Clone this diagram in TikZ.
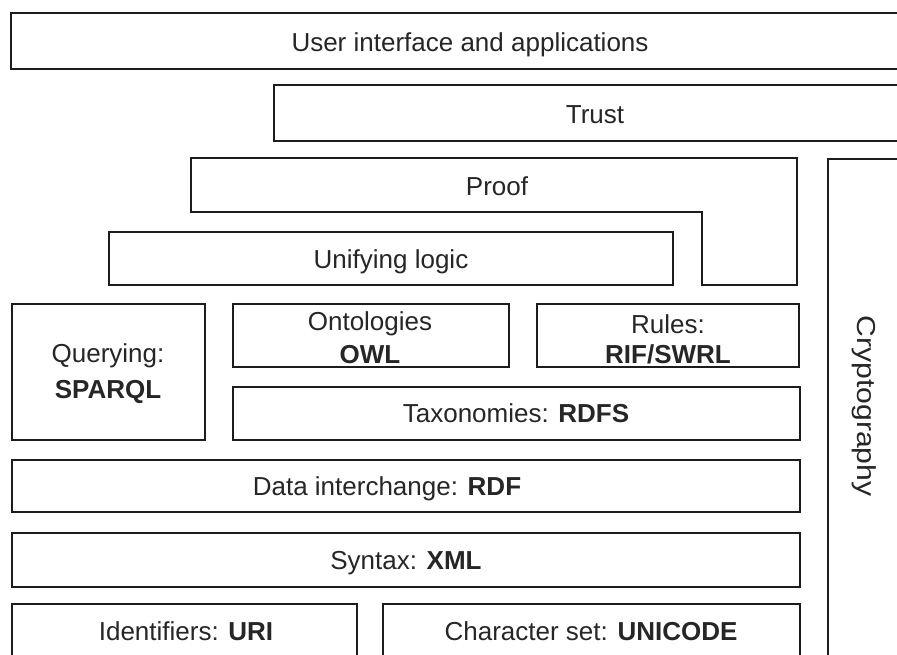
\documentclass[tikz,border=0pt]{standalone}
\usepackage{fontspec}
\setmainfont{Liberation Sans}
\definecolor{linec}{HTML}{1C1C1C}
\definecolor{txtc}{HTML}{262626}
\begin{document}
\begin{tikzpicture}[x=1pt,y=-1pt,
  box/.style={draw=linec, line width=1.8pt, line join=miter},
  lbl/.style={text=txtc, font=\fontsize{26}{30}\selectfont, inner sep=0pt, anchor=base}]
\useasboundingbox (0,0) rectangle (897,654);
\clip (0,0) rectangle (897,654);
\fill[white] (0,0) rectangle (897,654);
% layers
\draw[box] (11,13) rectangle (929,69);
\draw[box] (274,85) rectangle (916,141);
\draw[box] (191,158) -- (797,158) -- (797,285) -- (702,285) -- (702,212) -- (191,212) -- cycle;
\draw[box] (828,700) -- (828,159) -- (920,159) -- (920,700);
\draw[box] (109,232) rectangle (673,285);
\draw[box] (12,304) rectangle (205,440);
\draw[box] (233,304) rectangle (509,367);
\draw[box] (537,304) rectangle (799,367);
\draw[box] (233,387) rectangle (800,440);
\draw[box] (12,460) rectangle (800,512);
\draw[box] (12,533) rectangle (800,587);
\draw[box] (12,690) -- (12,604) -- (357,604) -- (357,690);
\draw[box] (383,690) -- (383,604) -- (800,604) -- (800,690);
% labels
\node[lbl] (ui) at (470,51.7) {User interface and applications};
\node[lbl] (trust) at (595,123) {Trust};
\node[lbl] (proof) at (497,195) {Proof};
\node[lbl] (logic) at (391,268) {Unifying logic};
\node[lbl] (query) at (108,362) {Querying:};
\node[lbl] (sparql) at (108,398) {\textbf{SPARQL}};
\node[lbl] (onto) at (370,330) {Ontologies};
\node[lbl] (owl) at (370,363) {\textbf{OWL}};
\node[lbl] (rules) at (668,333) {Rules:};
\node[lbl] (rif) at (668,363) {\textbf{RIF/SWRL}};
\node[lbl] (rdfs) at (516,422) {Taxonomies: \textbf{RDFS}};
\node[lbl] (rdf) at (387,495) {Data interchange: \textbf{RDF}};
\node[lbl] (xml) at (406,569) {Syntax: \textbf{XML}};
\node[lbl] (uri) at (186,640) {Identifiers: \textbf{URI}};
\node[lbl] (uni) at (591,640) {Character set: \textbf{UNICODE}};
\node[lbl, rotate=-90] (crypto) at (857,406) {\scalebox{1.16}[1]{Cryptography}};
\end{tikzpicture}
\end{document}
